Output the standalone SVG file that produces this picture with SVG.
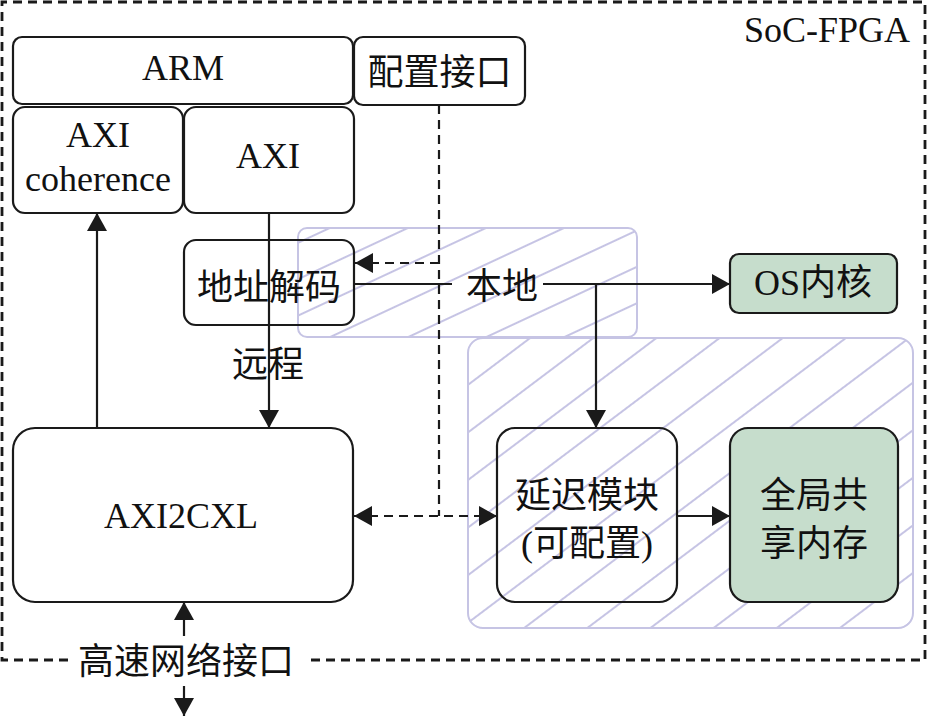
<svg xmlns="http://www.w3.org/2000/svg" width="927" height="717" viewBox="0 0 927 717">
<style>
.box{fill:none;stroke:#1a1a1a;stroke-width:2.2}
.wbox{fill:#fff;stroke:#1a1a1a;stroke-width:2.2}
.gbox{fill:#c6ddcc;stroke:#1a1a1a;stroke-width:2.2}
.hatchbox{stroke:#c6c4e4;stroke-width:2}
.t{font-family:"Liberation Serif","Noto Sans CJK SC",serif;font-size:36px;fill:#111;text-anchor:middle}
.ln{fill:none;stroke:#1a1a1a;stroke-width:2.2}
.dl{fill:none;stroke:#1a1a1a;stroke-width:2.2;stroke-dasharray:9 6}
</style>
<defs>
<pattern id="h1" patternUnits="userSpaceOnUse" width="40" height="33" patternTransform="rotate(-25)">
<line x1="0" y1="16" x2="40" y2="16" stroke="#c6c4e4" stroke-width="1.8"/>
</pattern>
<pattern id="h2" patternUnits="userSpaceOnUse" width="40" height="38" patternTransform="rotate(-37)">
<line x1="0" y1="19" x2="40" y2="19" stroke="#c6c4e4" stroke-width="1.8"/>
</pattern>
<marker id="ah" viewBox="0 0 18 20" refX="18" refY="10" markerWidth="18" markerHeight="20" markerUnits="userSpaceOnUse" orient="auto-start-reverse">
<path d="M0,0 L18,10 L0,20 Z" fill="#1a1a1a"/>
</marker>
</defs>
<rect width="927" height="717" fill="#fff"/>
<g id="soc-fpga">
<path class="dl" d="M68,660 L2,660 L2,2 L925,2 L925,660 L305,660" style="stroke-width:2.8"/>
<text class="t" x="910" y="42" style="text-anchor:end">SoC-FPGA</text>
</g>
<g id="region-local">
<rect class="hatchbox" x="298" y="228" width="339" height="109" rx="9" fill="url(#h1)"/>
</g>
<g id="region-mem">
<rect class="hatchbox" x="468" y="338" width="445" height="290" rx="15" fill="url(#h2)"/>
</g>
<g id="arm">
<rect class="wbox" x="13" y="37" width="340" height="67" rx="9"/>
<text class="t" x="183" y="80">ARM</text>
</g>
<g id="config-if">
<rect class="wbox" x="354" y="37" width="171" height="68" rx="9"/>
<text class="t" x="439.5" y="85">配置接口</text>
</g>
<g id="axi-coherence">
<rect class="wbox" x="13" y="107" width="170" height="106" rx="12"/>
<text class="t" x="98" y="147">AXI</text>
<text class="t" x="98" y="191">coherence</text>
</g>
<g id="axi">
<rect class="wbox" x="184" y="107" width="170" height="106" rx="12"/>
<text class="t" x="268" y="168">AXI</text>
</g>
<g id="addr-decode">
<rect class="box" x="184" y="240" width="170" height="85" rx="12"/>
<text class="t" x="269" y="300">地址解码</text>
</g>
<g id="os-kernel">
<rect class="gbox" x="730" y="254" width="167" height="59" rx="9"/>
<text class="t" x="813" y="295">OS内核</text>
</g>
<g id="axi2cxl">
<rect class="box" x="13" y="428" width="340" height="174" rx="22"/>
<text class="t" x="181" y="528">AXI2CXL</text>
</g>
<g id="delay-module">
<rect class="box" x="497" y="428" width="180" height="174" rx="18"/>
<text class="t" x="587" y="508">延迟模块</text>
<text class="t" x="587" y="556">(可配置)</text>
</g>
<g id="shared-mem">
<rect class="gbox" x="730" y="428" width="168" height="174" rx="18"/>
<text class="t" x="814" y="508">全局共</text>
<text class="t" x="814" y="556">享内存</text>
</g>
<g id="connectors">
<path class="ln" d="M97,428 L97,213" marker-end="url(#ah)"/>
<path class="ln" d="M269,213 L269,428" marker-end="url(#ah)"/>
<path class="dl" d="M439,105 L439,516"/>
<path class="dl" d="M439,263 L355,263" marker-end="url(#ah)"/>
<path class="dl" d="M354,516 L497,516" marker-start="url(#ah)" marker-end="url(#ah)"/>
<path class="ln" d="M355,284 L452,284"/>
<path class="ln" d="M543,284 L730,284" marker-end="url(#ah)"/>
<path class="ln" d="M596,284 L596,428" marker-end="url(#ah)"/>
<path class="ln" d="M677,516 L730,516" marker-end="url(#ah)"/>
<path class="ln" d="M184,636 L184,602" marker-end="url(#ah)"/>
<path class="ln" d="M184,686 L184,716" marker-end="url(#ah)"/>
<text class="t" x="502" y="299">本地</text>
<text class="t" x="268" y="377">远程</text>
<text class="t" x="186" y="674">高速网络接口</text>
</g>
</svg>
